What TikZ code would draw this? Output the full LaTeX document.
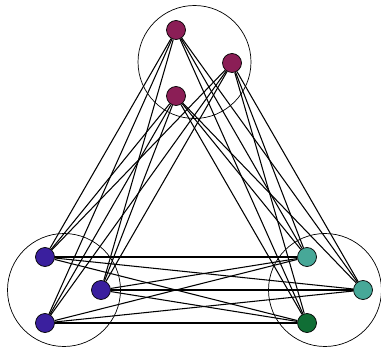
\documentclass[tikz,border=0pt]{standalone}
\usepackage{xcolor}
\usepackage{tikz}
\usetikzlibrary{positioning}
\definecolor{topc}{HTML}{8B1E56}
\definecolor{leftc}{HTML}{3A1F9E}
\definecolor{tealc}{HTML}{47A898}
\definecolor{greenc}{HTML}{106E35}
\tikzset{
  vert/.style={circle, draw=black, thin, minimum size=0.38cm, inner sep=0pt},
  group/.style={circle, draw=black, thin, minimum size=2.26cm, inner sep=0pt},
  link/.style={black, semithick}}

\begin{document}
\begin{tikzpicture}[x=0.02cm, y=-0.02cm]
  \useasboundingbox (0,0) rectangle (381,347);
  % ---- the three groups
  \node[group] (gtop) at (194.5,62) {};
  \node[group] (gleft) at (64,290) {};
  \node[group] (gright) at (325,290) {};
  % ---- vertices of each group
  \node[vert, fill=topc] (t1) at (176,30) {};
  \node[vert, fill=topc] (t2) at (232,63) {};
  \node[vert, fill=topc] (t3) at (176,96) {};
  \node[vert, fill=leftc] (l1) at (45,257) {};
  \node[vert, fill=leftc] (l2) at (101,290) {};
  \node[vert, fill=leftc] (l3) at (45,323) {};
  \node[vert, fill=tealc] (r1) at (307,257) {};
  \node[vert, fill=tealc] (r2) at (363,290) {};
  \node[vert, fill=greenc] (r3) at (307,323) {};
  % ---- every vertex is joined to all vertices of the other groups
  \foreach \a/\b in {t/l, t/r, l/r}
    \foreach \i in {1,2,3}
      \foreach \j in {1,2,3}
        \draw[link] (\a\i) -- (\b\j);
\end{tikzpicture}
\end{document}
